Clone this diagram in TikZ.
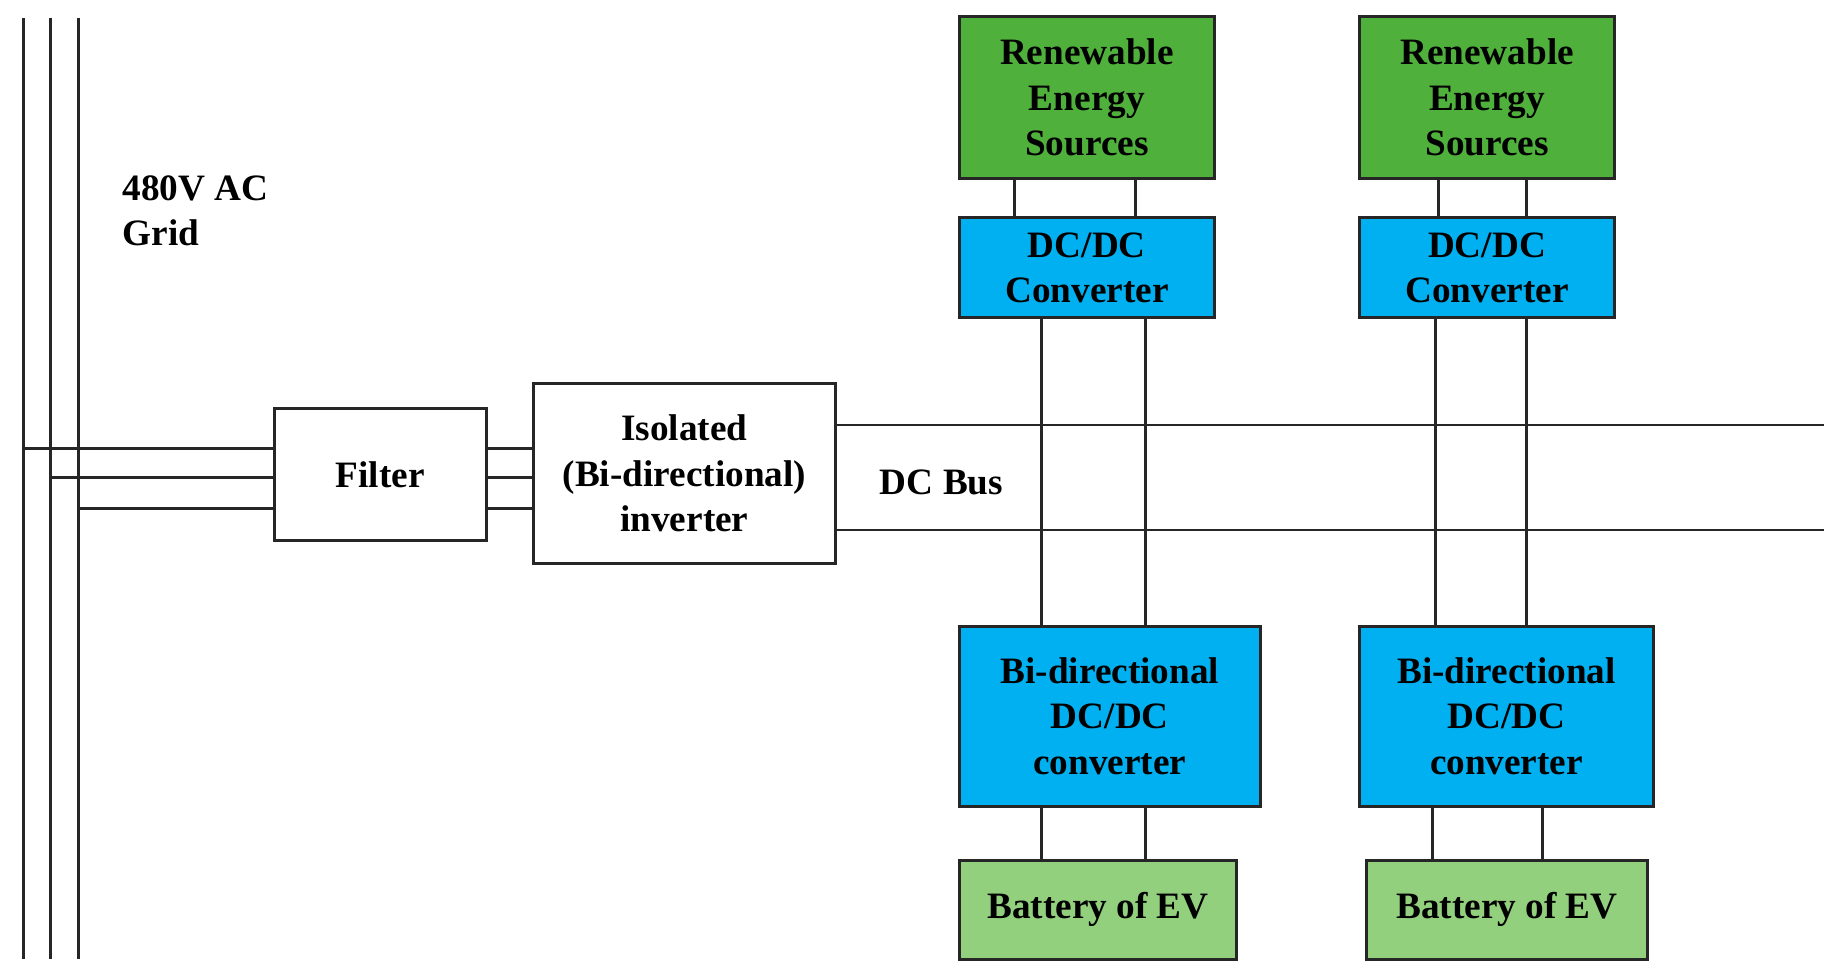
\documentclass[tikz,border=0pt]{standalone}
\usepackage{fontspec}
\setmainfont{Liberation Serif}
\definecolor{dg}{RGB}{80,176,60}
\definecolor{bl}{RGB}{0,176,240}
\definecolor{lg}{RGB}{146,208,126}
\begin{document}
\begin{tikzpicture}[x=0.03cm,y=-0.03cm,
  box/.style={draw=black!85,line width=2.2pt,inner sep=0pt,align=center,font=\fontsize{27}{33}\selectfont\bfseries},
  w/.style={line width=2.2pt,draw=black!85},
  bus/.style={line width=1.6pt,draw=black!85}]
\useasboundingbox (0,0) rectangle (1560,828);
\fill[white] (0,0) rectangle (1560,828);
% AC lines
\foreach \x/\n in {20/a1,43/a2,67/a3}{
  \coordinate (\n t) at (\x,15); \coordinate (\n b) at (\x,815);
  \draw[w] (\n t) -- (\n b);}
\node[font=\fontsize{27}{33}\selectfont\bfseries,align=left,anchor=north west] (grid) at (100,145) {480V AC\\Grid};
% boxes
\node[box,minimum width=180*0.03cm,minimum height=112*0.03cm] (filt) at (323,403) {Filter};
\node[box,minimum width=257*0.03cm,minimum height=153*0.03cm] (inv) at (581.5,402.5) {Isolated\\(Bi-directional)\\inverter};
\node[box,fill=dg,minimum width=217*0.03cm,minimum height=138*0.03cm] (res1) at (923.5,83) {Renewable\\Energy\\Sources};
\node[box,fill=dg,minimum width=217*0.03cm,minimum height=138*0.03cm] (res2) at (1263.5,83) {Renewable\\Energy\\Sources};
\node[box,fill=bl,minimum width=217*0.03cm,minimum height=85*0.03cm] (dc1) at (923.5,227.5) {DC/DC\\Converter};
\node[box,fill=bl,minimum width=217*0.03cm,minimum height=85*0.03cm] (dc2) at (1263.5,227.5) {DC/DC\\Converter};
\node[box,fill=bl,minimum width=256*0.03cm,minimum height=153*0.03cm] (bd1) at (943,608.5) {Bi-directional\\DC/DC\\converter};
\node[box,fill=bl,minimum width=250*0.03cm,minimum height=153*0.03cm] (bd2) at (1280,608.5) {Bi-directional\\DC/DC\\converter};
\node[box,fill=lg,minimum width=236*0.03cm,minimum height=84*0.03cm] (bat1) at (933,773) {Battery of EV};
\node[box,fill=lg,minimum width=239*0.03cm,minimum height=84*0.03cm] (bat2) at (1280.5,773) {Battery of EV};
% AC to filter to inverter
\foreach \y/\n in {381/a1,406/a2,432/a3}{
  \coordinate (h) at (0,\y);
  \draw[w] (\n t |- h) -- (filt.west |- h);
  \draw[w] (filt.east |- h) -- (inv.west |- h);}
% DC bus
\coordinate (e1) at (1550,361); \coordinate (e2) at (1550,450);
\draw[bus] (inv.east |- e1) -- (e1);
\draw[bus] (inv.east |- e2) -- (e2);
\node[font=\fontsize{27}{33}\selectfont\bfseries] (dcb) at (800,410) {DC Bus};
% verticals
\foreach \x in {862,965}{\coordinate (c) at (\x,0); \draw[w] (res1.south -| c) -- (dc1.north -| c);}
\foreach \x in {1222,1297}{\coordinate (c) at (\x,0); \draw[w] (res2.south -| c) -- (dc2.north -| c);}
\foreach \x in {885,973}{\coordinate (c) at (\x,0); \draw[w] (dc1.south -| c) -- (bd1.north -| c); \draw[w] (bd1.south -| c) -- (bat1.north -| c);}
\foreach \x in {1220,1297}{\coordinate (c) at (\x,0); \draw[w] (dc2.south -| c) -- (bd2.north -| c);}
\foreach \x in {1217,1311}{\coordinate (c) at (\x,0); \draw[w] (bd2.south -| c) -- (bat2.north -| c);}
\end{tikzpicture}
\end{document}
